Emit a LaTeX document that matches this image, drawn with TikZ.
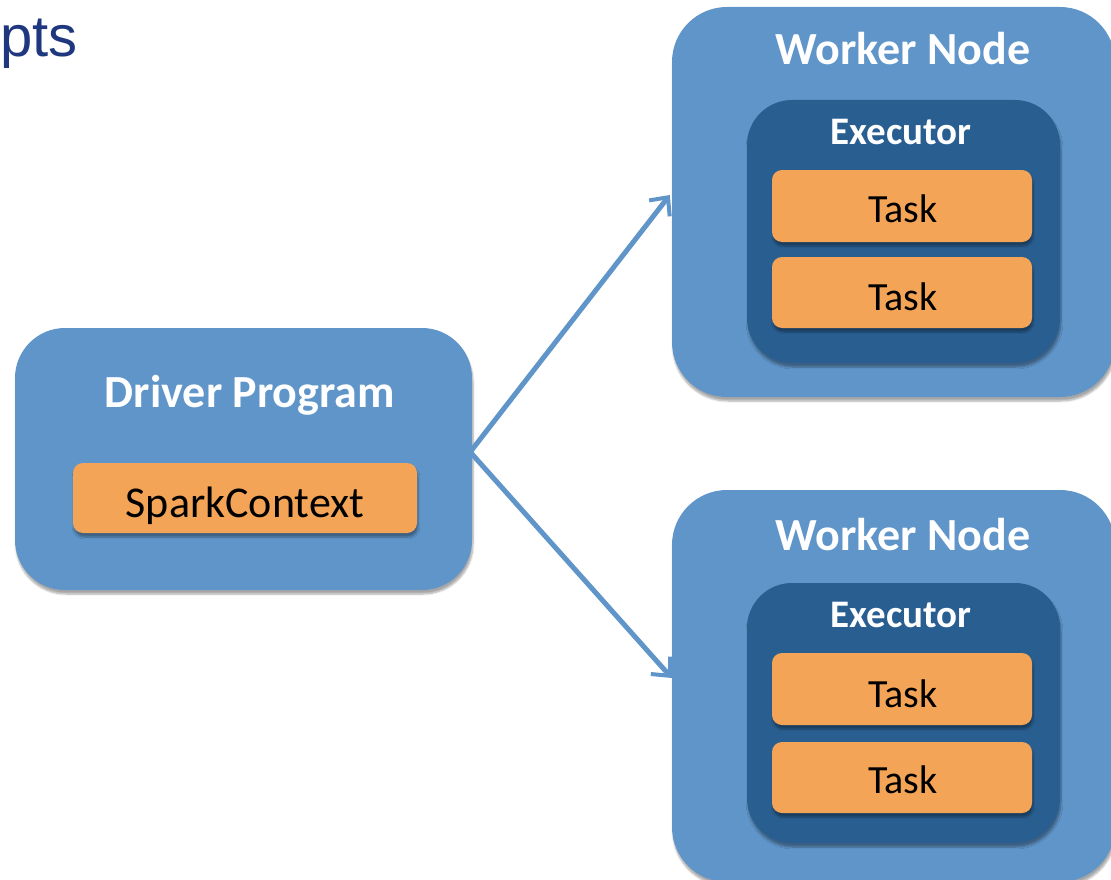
\documentclass[tikz,border=0pt]{standalone}
\usepackage{fontspec}
\setmainfont{Carlito}
\newfontfamily\arialf{Liberation Sans}
\usetikzlibrary{arrows.meta,shadows.blur}
\definecolor{lblue}{HTML}{5F95C9}
\definecolor{dblue}{HTML}{295E91}
\definecolor{orng}{HTML}{F4A456}
\definecolor{ttl}{HTML}{1F377F}
\tikzset{
  sh/.style={blur shadow={shadow blur steps=6, shadow xshift=1pt, shadow yshift=-4pt, shadow opacity=35}},
  outerbox/.style={fill=lblue, draw=none, rounded corners=55pt, sh, inner sep=0pt},
  execbox/.style={fill=dblue, draw=none, rounded corners=45pt, sh, inner sep=0pt},
  taskbox/.style={fill=orng, draw=none, rounded corners=10pt, sh, inner sep=0pt},
  whitettl/.style={text=white, font=\fontsize{46}{50}\selectfont\bfseries, anchor=base, inner sep=0pt},
  exttl/.style={text=white, font=\fontsize{39}{44}\selectfont\bfseries, anchor=base, inner sep=0pt},
  tasktxt/.style={text=black, font=\fontsize{40}{44}\selectfont, anchor=base, inner sep=0pt},
  conn/.style={draw=lblue, line width=5pt, -{Straight Barb[length=14pt,width=26pt,line width=4pt]}}
}
\begin{document}
\begin{tikzpicture}[x=1pt,y=-1pt]
\useasboundingbox (0,0) rectangle (1111,880);
% title fragment
\node[anchor=base west, inner sep=0pt, text=ttl, font=\arialf\fontsize{58}{62}\selectfont] (ttl) at (0,57) {pts};
% driver
\node[outerbox, rounded corners=50pt, minimum width=457pt, minimum height=262pt] (driver) at (243.5,459) {};
\node[whitettl] (drvttl) at (250,407) {Driver Program};
\node[taskbox, minimum width=344pt, minimum height=70pt] (sc) at (245,498) {};
\node[tasktxt, font=\fontsize{44}{48}\selectfont] (sctxt) at (245,517) {SparkContext};
% worker 1
\node[outerbox, minimum width=443pt, minimum height=390pt] (w1) at (893.5,202) {};
\node[whitettl] (w1ttl) at (903,65) {Worker Node};
\node[execbox, minimum width=313pt, minimum height=263pt] (e1) at (903.5,231.5) {};
\node[exttl] (e1ttl) at (901,145) {Executor};
\node[taskbox, minimum width=260pt, minimum height=72pt] (t1) at (902,206) {};
\node[tasktxt] (t1txt) at (903,222) {Task};
\node[taskbox, minimum width=260pt, minimum height=71pt] (t2) at (902,292.5) {};
\node[tasktxt] (t2txt) at (903,310) {Task};
% worker 2
\node[outerbox, minimum width=443pt, minimum height=392pt] (w2) at (893.5,686) {};
\node[whitettl] (w2ttl) at (903,550) {Worker Node};
\node[execbox, minimum width=313pt, minimum height=260pt] (e2) at (903.5,713) {};
\node[exttl] (e2ttl) at (901,627) {Executor};
\node[taskbox, minimum width=260pt, minimum height=72pt] (t3) at (902,689) {};
\node[tasktxt] (t3txt) at (903,707) {Task};
\node[taskbox, minimum width=260pt, minimum height=71pt] (t4) at (902,777.5) {};
\node[tasktxt] (t4txt) at (903,793) {Task};
% connectors
\draw[conn] ([xshift=-2pt,yshift=7pt]driver.east) -- ([xshift=-2pt,yshift=7pt]w1.west);
\draw[conn] ([xshift=-2pt,yshift=7pt]driver.east) -- ([yshift=8pt]w2.west);
\end{tikzpicture}
\end{document}
